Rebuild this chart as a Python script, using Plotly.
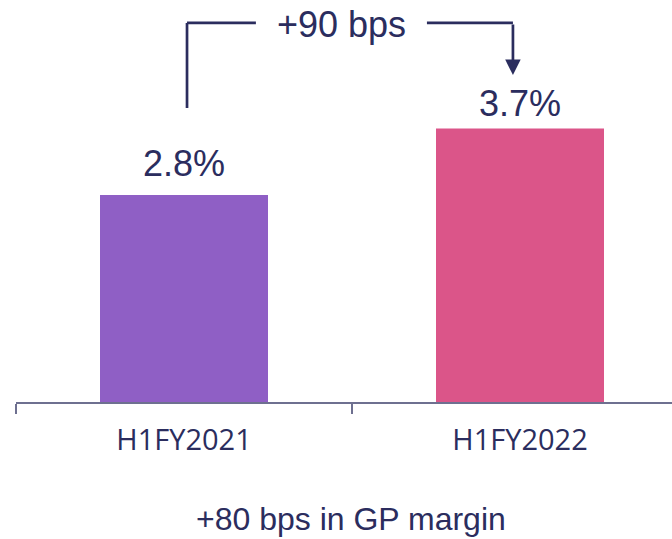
import plotly.graph_objects as go

categories = ["H1FY2021", "H1FY2022"]
values = [2.8, 3.7]
value_labels = ["2.8%", "3.7%"]
bar_colors = ["#8F5FC5", "#DB5589"]
delta_label = "+90 bps"
footer = "+80 bps in GP margin"

navy = "#2B2D5E"
axis_col = "#6E7090"
arial = "Liberation Sans, Arial"

fig = go.Figure(go.Bar(
    x=categories, y=values, width=0.5, marker=dict(color=bar_colors, line=dict(width=0)),
    hoverinfo="skip"))

# value labels
for i, (v, t) in enumerate(zip(values, value_labels)):
    fig.add_annotation(x=i, y=v, text=t, showarrow=False, yanchor="middle",
                       yshift=[32, 24.5][i], font=dict(family=arial, size=36, color=navy))

# bracket arrow
top = 5.127
lw = 2.7
fig.add_shape(type="line", xref="x", yref="y", x0=0.009, x1=0.009, y0=3.977, y1=top,
              line=dict(color=navy, width=lw))
fig.add_shape(type="line", xref="x", yref="y", x0=0.009, x1=0.214, y0=top, y1=top,
              line=dict(color=navy, width=lw))
fig.add_shape(type="line", xref="x", yref="y", x0=0.723, x1=0.979, y0=top, y1=top,
              line=dict(color=navy, width=lw))
fig.add_annotation(x=0.979, y=4.423, ax=0.979, ay=top, xref="x", yref="y", axref="x", ayref="y",
                   text="", showarrow=True, arrowhead=2, arrowsize=1.15, arrowwidth=lw, arrowcolor=navy)
fig.add_annotation(x=0.469, y=5.10, xref="x", yref="y", text=delta_label, showarrow=False,
                   yanchor="middle", font=dict(family=arial, size=36, color=navy))

fig.add_annotation(x=0.511, xref="paper", y=-0.291, yref="paper", yanchor="middle",
                   text=footer, showarrow=False,
                   font=dict(family=arial, size=32, color=navy))

fig.update_layout(
    width=672, height=539, margin=dict(l=16, r=0, t=0, b=137),
    plot_bgcolor="white", paper_bgcolor="white", showlegend=False,
    xaxis=dict(type="category", range=[-0.5, -0.5 + 656 / 336],
               showline=True, linecolor=axis_col, linewidth=1.5, ticks="outside", ticklen=10,
               tickcolor=axis_col, tickwidth=1.5, tickson="boundaries", showgrid=False, zeroline=False,
               ticklabelstandoff=11,
               tickfont=dict(family="Open Sans, Noto Sans", size=29, color=navy)),
    yaxis=dict(range=[0, 402 / 73.93], visible=False, showgrid=False, zeroline=False),
)

fig.write_html("out.html", config={"displayModeBar": False},
               post_script="document.body.style.margin='0';")
